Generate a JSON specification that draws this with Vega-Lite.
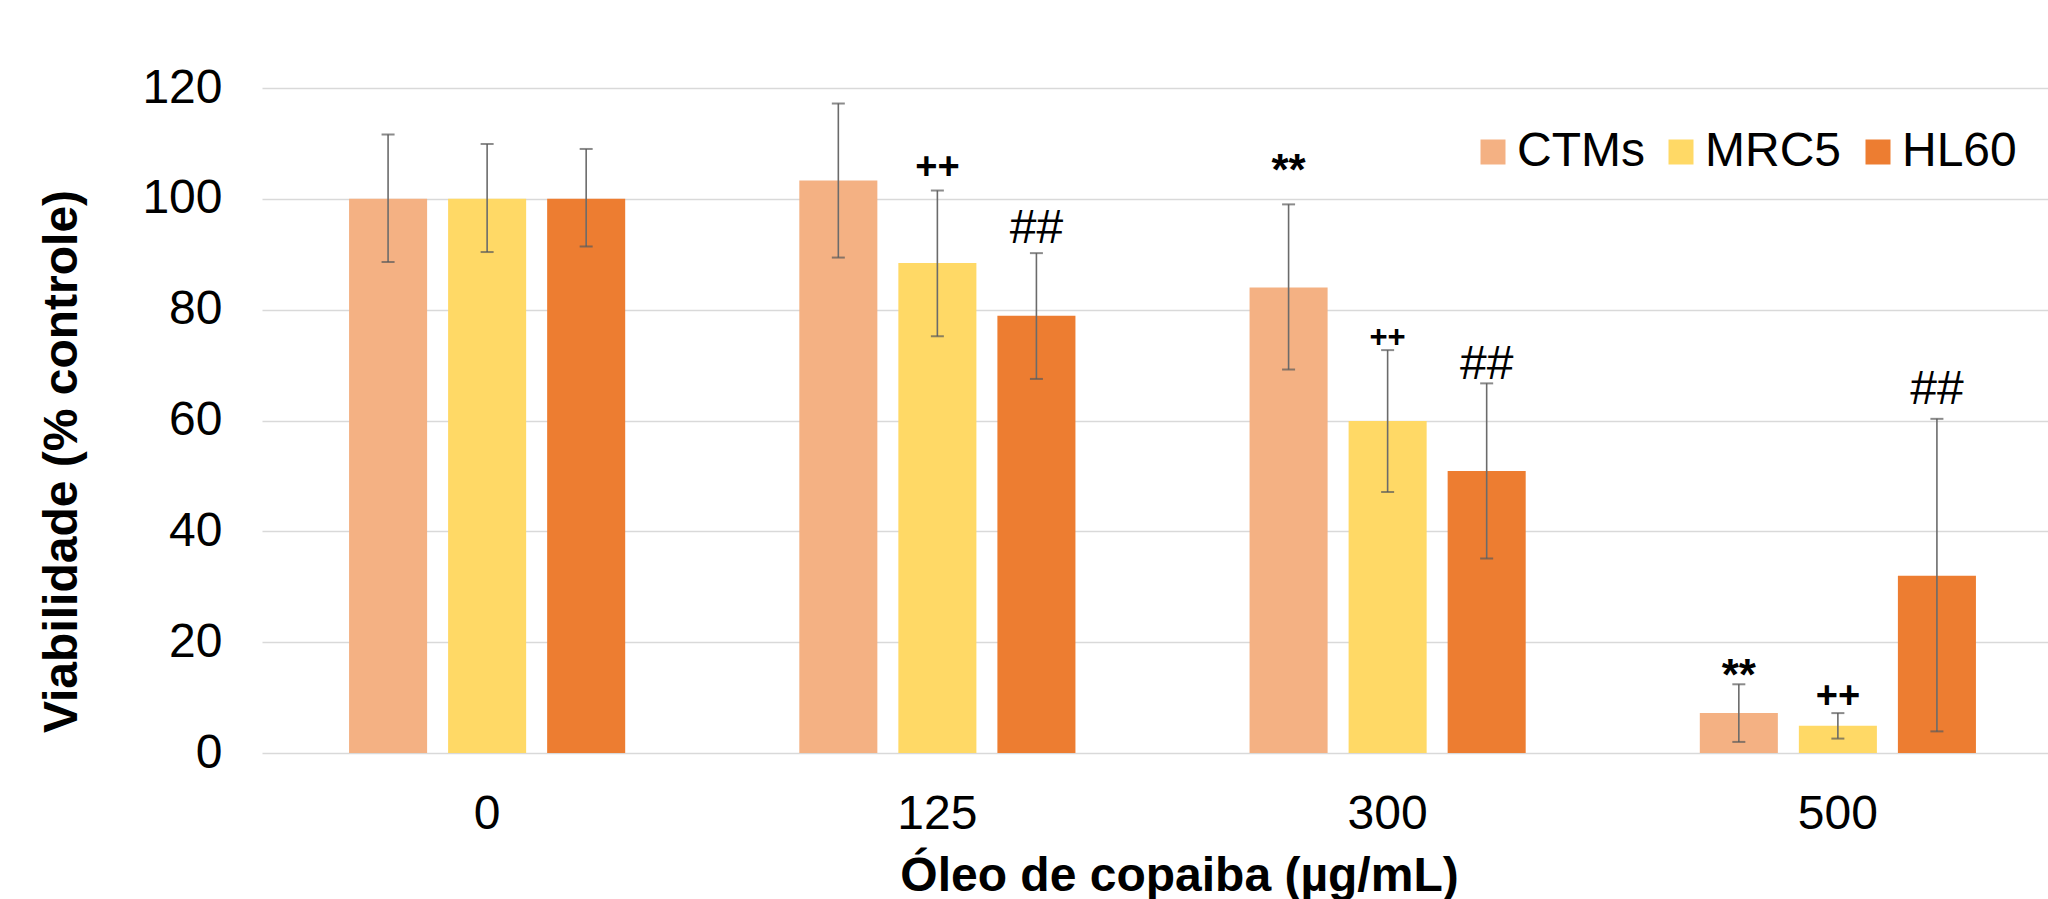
{
  "$schema": "https://vega.github.io/schema/vega-lite/v6.json",
  "autosize": {"type": "none"},
  "padding": {"left": 262, "top": 88, "right": 0, "bottom": 146},
  "width": 1786,
  "height": 665,
  "background": "white",
  "config": {
    "view": {"stroke": null},
    "font": "Liberation Sans",
    "axis": {"labelFont": "Liberation Sans", "titleFont": "Liberation Sans", "labelColor": "#000000", "titleColor": "#000000"},
    "legend": {"padding": 0}
  },
  "data": {
    "values": [
      {"conc": "0", "cell": "CTMs", "value": 100, "err_lo": 88.6, "err_hi": 111.6, "label": "", "label_y": null},
      {"conc": "0", "cell": "MRC5", "value": 100, "err_lo": 90.4, "err_hi": 109.9, "label": "", "label_y": null},
      {"conc": "0", "cell": "HL60", "value": 100, "err_lo": 91.4, "err_hi": 109.0, "label": "", "label_y": null},
      {"conc": "125", "cell": "CTMs", "value": 103.3, "err_lo": 89.4, "err_hi": 117.2, "label": "", "label_y": null},
      {"conc": "125", "cell": "MRC5", "value": 88.4, "err_lo": 75.2, "err_hi": 101.5, "label": "++", "label_y": 105.5},
      {"conc": "125", "cell": "HL60", "value": 78.9, "err_lo": 67.5, "err_hi": 90.2, "label": "##", "label_y": 94.6},
      {"conc": "300", "cell": "CTMs", "value": 84.0, "err_lo": 69.2, "err_hi": 99.0, "label": "**", "label_y": 104.8},
      {"conc": "300", "cell": "MRC5", "value": 59.9, "err_lo": 47.1, "err_hi": 72.7, "label": "++", "label_y": 74.8},
      {"conc": "300", "cell": "HL60", "value": 50.9, "err_lo": 35.1, "err_hi": 66.7, "label": "##", "label_y": 70.0},
      {"conc": "500", "cell": "CTMs", "value": 7.2, "err_lo": 2.0, "err_hi": 12.4, "label": "**", "label_y": 13.7},
      {"conc": "500", "cell": "MRC5", "value": 4.9, "err_lo": 2.6, "err_hi": 7.2, "label": "++", "label_y": 10.1},
      {"conc": "500", "cell": "HL60", "value": 32.0, "err_lo": 3.9, "err_hi": 60.3, "label": "##", "label_y": 65.5}
    ]
  },
  "encoding": {
    "x": {
      "field": "conc", "type": "nominal",
      "scale": {"domain": ["0", "125", "300", "500"], "range": [0, 1801], "paddingInner": 0, "paddingOuter": 0},
      "axis": {
        "title": "Óleo de copaiba (µg/mL)",
        "labelAngle": 0, "labelFontSize": 48, "labelPadding": 37, "ticks": false, "domain": false, "grid": false,
        "titleFontSize": 48, "titleFontWeight": "bold", "titleX": 917, "titleY": 137, "titleBaseline": "alphabetic", "titleAnchor": null
      }
    },
    "xOffset": {
      "field": "cell", "type": "nominal",
      "scale": {"domain": ["CTMs", "MRC5", "HL60"], "paddingInner": 0.212, "paddingOuter": 0.879}
    }
  },
  "layer": [
    {
      "mark": {"type": "bar"},
      "encoding": {
        "y": {
          "field": "value", "type": "quantitative",
          "scale": {"domain": [0, 120], "nice": false, "zero": true},
          "axis": {
            "title": "Viabilidade (% controle)",
            "values": [0, 20, 40, 60, 80, 100, 120],
            "labelFontSize": 48, "labelPadding": 40, "ticks": false, "domain": false,
            "grid": true, "gridColor": "#D9D9D9", "gridWidth": 1.5,
            "titleFontSize": 48, "titleFontWeight": "bold", "titleX": -200, "titleY": 373, "titleBaseline": "middle", "titleAngle": -90
          }
        },
        "color": {
          "field": "cell", "type": "nominal",
          "scale": {"domain": ["CTMs", "MRC5", "HL60"], "range": ["#F4B183", "#FFD966", "#ED7D31"]},
          "legend": {
            "title": null, "orient": "none", "legendX": 1207, "legendY": 40, "direction": "horizontal",
            "gridAlign": "none",
            "symbolType": "square", "symbolSize": 625, "symbolStrokeWidth": 0, "symbolOpacity": 1,
            "labelFontSize": 48, "labelFont": "Liberation Sans", "labelColor": "#000000", "labelOffset": 0,
            "columnPadding": 12, "labelLimit": 400
          }
        }
      }
    },
    {
      "mark": {"type": "rule", "color": "#6b6b6b", "strokeWidth": 1.6},
      "encoding": {
        "y": {"field": "err_lo", "type": "quantitative"},
        "y2": {"field": "err_hi"}
      }
    },
    {
      "mark": {"type": "tick", "orient": "horizontal", "color": "#5a5a5a", "size": 13, "thickness": 2},
      "encoding": {"y": {"field": "err_lo", "type": "quantitative"}}
    },
    {
      "mark": {"type": "tick", "orient": "horizontal", "color": "#5a5a5a", "size": 13, "thickness": 2},
      "encoding": {"y": {"field": "err_hi", "type": "quantitative"}}
    },
    {
      "transform": [{"filter": "datum.label == '##'"}],
      "mark": {"type": "text", "fontSize": 48, "font": "Liberation Sans", "color": "#000000", "baseline": "middle", "align": "center"},
      "encoding": {"y": {"field": "label_y", "type": "quantitative"}, "text": {"field": "label"}}
    },
    {
      "transform": [{"filter": "datum.label == '**'"}],
      "mark": {"type": "text", "fontSize": 44, "fontWeight": "bold", "font": "Liberation Sans", "color": "#000000", "baseline": "middle", "align": "center"},
      "encoding": {"y": {"field": "label_y", "type": "quantitative"}, "text": {"field": "label"}}
    },
    {
      "transform": [{"filter": "datum.label == '++' && datum.conc != '300'"}],
      "mark": {"type": "text", "fontSize": 38, "fontWeight": "bold", "font": "Liberation Sans", "color": "#000000", "baseline": "middle", "align": "center"},
      "encoding": {"y": {"field": "label_y", "type": "quantitative"}, "text": {"field": "label"}}
    },
    {
      "transform": [{"filter": "datum.label == '++' && datum.conc == '300'"}],
      "mark": {"type": "text", "fontSize": 31, "fontWeight": "bold", "font": "Liberation Sans", "color": "#000000", "baseline": "middle", "align": "center"},
      "encoding": {"y": {"field": "label_y", "type": "quantitative"}, "text": {"field": "label"}}
    }
  ]
}
